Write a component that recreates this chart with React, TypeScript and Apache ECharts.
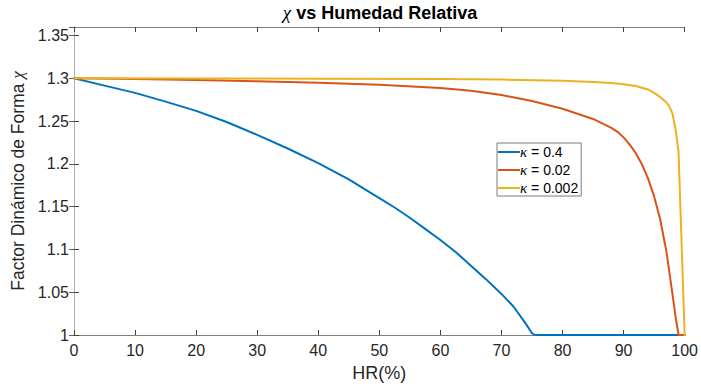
import React, { useEffect, useRef } from "react";
import * as echarts from "echarts";

// Relative humidity samples (%) and dynamic shape factor χ for each κ
const hrK04 = [0, 5, 10, 15, 20, 25, 30, 35, 40, 45, 50, 52.5, 55, 57.5, 60, 62.5, 65, 67.5, 70, 72, 74, 75, 75.5, 80, 90, 100];
const chiK04 = [1.3, 1.2915, 1.283, 1.2728, 1.262, 1.249, 1.234, 1.218, 1.201, 1.182, 1.16, 1.149, 1.137, 1.124, 1.111, 1.097, 1.081, 1.065, 1.048, 1.033, 1.013, 1.002, 1.0, 1.0, 1.0, 1.0];

const hrK002 = [0, 10, 20, 30, 40, 50, 60, 65, 70, 75, 80, 85, 88, 89, 90, 91, 92, 93, 94, 95, 96, 97, 98, 98.5, 99, 100];
const chiK002 = [1.3, 1.2992, 1.298, 1.2966, 1.2948, 1.2925, 1.2888, 1.2855, 1.2805, 1.2735, 1.2645, 1.2525, 1.242, 1.2375, 1.231, 1.2225, 1.2125, 1.1995, 1.183, 1.162, 1.135, 1.098, 1.048, 1.022, 1.0, 1.0];

const hrK0002 = [0, 20, 40, 60, 70, 80, 85, 88, 90, 92, 94, 95, 96, 97, 97.5, 98, 98.5, 99, 100];
const chiK0002 = [1.3, 1.2998, 1.2996, 1.2992, 1.2985, 1.2972, 1.2958, 1.2945, 1.2932, 1.291, 1.287, 1.283, 1.278, 1.272, 1.267, 1.259, 1.241, 1.214, 1.0];

const seriesNames = ["κ = 0.4", "κ = 0.02", "κ = 0.002"];
const seriesColors = ["#0072BD", "#D95319", "#EDB120"];

const FONT = "Liberation Sans, Arial, sans-serif";
const SERIF = "Liberation Serif, DejaVu Serif, serif";
const TEXT = "#262626";

const pairs = (xs: number[], ys: number[]) => xs.map((x, i) => [x, ys[i]]);

export default function App() {
  const ref = useRef<HTMLDivElement>(null);

  useEffect(() => {
    if (!ref.current) return;
    const chart = echarts.init(ref.current, undefined, { renderer: "svg" });

    const sharedY = { type: "value" as const, min: 1, max: 1.36, interval: 0.05 };
    const sharedX = { type: "value" as const, min: 0, max: 100, interval: 10 };

    chart.setOption({
      animation: false,
      backgroundColor: "#ffffff",
      title: {
        text: "{c|χ} vs Humedad Relativa",
        left: 380,
        top: 3,
        textAlign: "center",
        padding: 0,
        textStyle: {
          fontFamily: FONT,
          fontSize: 18,
          fontWeight: "bold",
          color: "#000",
          rich: {
            c: { fontFamily: SERIF, fontStyle: "italic", fontWeight: "normal", fontSize: 19, color: "#000" },
          },
        },
      },
      grid: { left: 74, right: 14, top: 27, bottom: 52, containLabel: false },
      legend: {
        orient: "vertical",
        left: 497,
        top: 143,
        padding: [1, 3, 0, 1],
        itemGap: 2,
        itemWidth: 22,
        itemHeight: 2,
        icon: "rect",
        borderColor: "#7a7a7a",
        borderWidth: 1,
        backgroundColor: "#fff",
        data: seriesNames,
        formatter: (name: string) => "{k|κ}" + name.slice(1),
        textStyle: {
          fontFamily: FONT,
          fontSize: 14,
          color: "#000",
          lineHeight: 16,
          padding: [0, 0, 0, -5],
          rich: {
            k: { fontFamily: SERIF, fontStyle: "italic", fontSize: 15, color: "#000", lineHeight: 16 },
          },
        },
      },
      xAxis: [
        {
          ...sharedX,
          position: "bottom",
          name: "HR(%)",
          nameLocation: "middle",
          nameGap: 29,
          nameTextStyle: { fontFamily: FONT, fontSize: 18, color: TEXT },
          axisLine: { show: true, lineStyle: { color: "#808080", width: 1 } },
          axisTick: { show: true, inside: true, length: 5, lineStyle: { color: "#404040" } },
          axisLabel: { fontFamily: FONT, fontSize: 16, color: TEXT, margin: 7 },
          splitLine: { show: false },
        },
        {
          ...sharedX,
          position: "top",
          axisLine: { show: true, lineStyle: { color: "#808080", width: 1 } },
          axisTick: { show: true, inside: true, length: 5, lineStyle: { color: "#404040" } },
          axisLabel: { show: false },
          splitLine: { show: false },
        },
      ],
      yAxis: [
        {
          ...sharedY,
          position: "left",
          name: "Factor Dinámico de Forma {c|χ}",
          nameLocation: "middle",
          nameGap: 39,
          nameTextStyle: {
            fontFamily: FONT,
            fontSize: 17.5,
            color: TEXT,
            rich: { c: { fontFamily: SERIF, fontStyle: "italic", fontSize: 17, color: TEXT } },
          },
          axisLine: { show: true, lineStyle: { color: "#808080", width: 1 } },
          axisTick: { show: true, inside: true, length: 5, lineStyle: { color: "#404040" } },
          axisLabel: {
            fontFamily: FONT,
            fontSize: 16,
            color: TEXT,
            margin: 5,
            showMaxLabel: false,
            formatter: (v: number) => String(+v.toFixed(2)),
          },
          splitLine: { show: false },
        },
        {
          ...sharedY,
          position: "right",
          axisLine: { show: true, lineStyle: { color: "#b0b0b0", width: 1 } },
          axisTick: { show: true, inside: true, length: 5, lineStyle: { color: "#606060" } },
          axisLabel: { show: false },
          splitLine: { show: false },
        },
      ],
      series: [
        [hrK04, chiK04],
        [hrK002, chiK002],
        [hrK0002, chiK0002],
      ].map(([xs, ys], i) => ({
        type: "line",
        name: seriesNames[i],
        data: pairs(xs, ys),
        xAxisIndex: 0,
        yAxisIndex: 0,
        symbol: "none",
        showSymbol: false,
        smooth: false,
        clip: true,
        z: 2 + i,
        lineStyle: { color: seriesColors[i], width: 2, join: "round", cap: "round" },
        itemStyle: { color: seriesColors[i] },
      })),
    });

    return () => chart.dispose();
  }, []);

  return (
    <div
      ref={ref}
      style={{ position: "fixed", left: 0, top: 0, width: 701, height: 387, background: "#fff" }}
    />
  );
}
